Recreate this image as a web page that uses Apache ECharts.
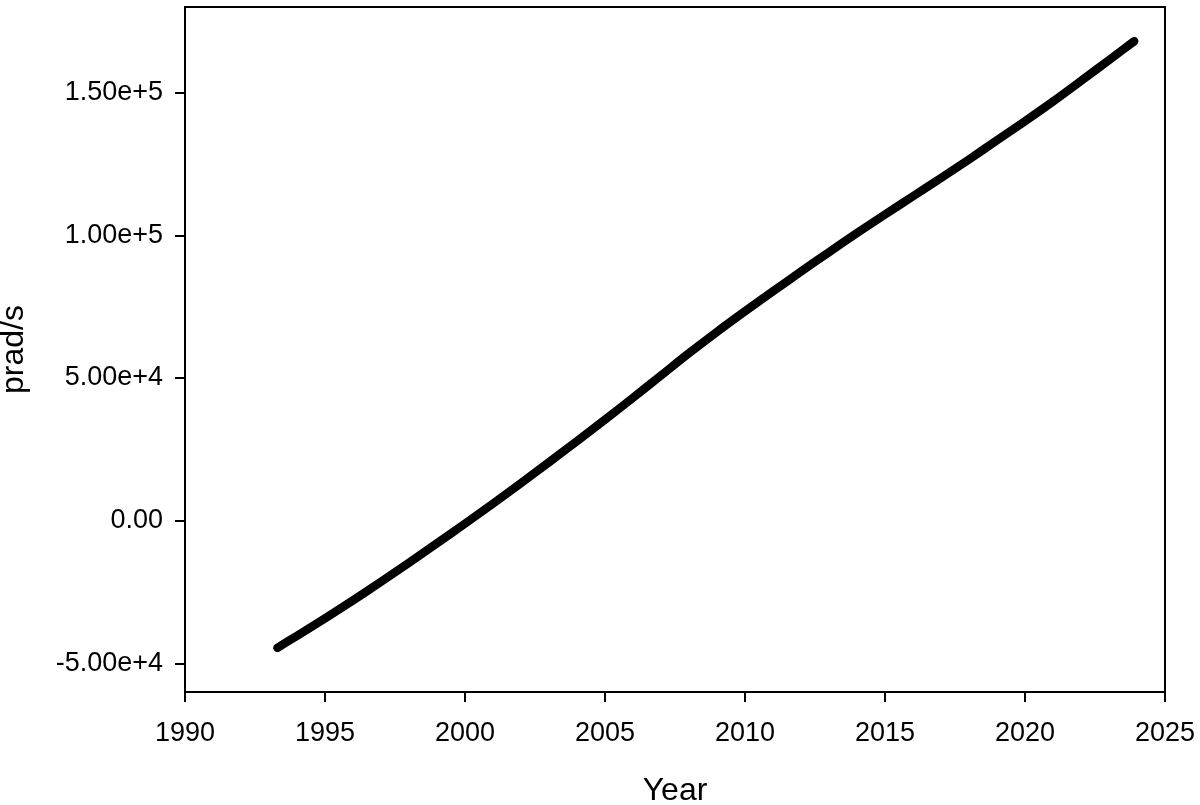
<!DOCTYPE html>
<html>
<head>
<meta charset="utf-8">
<script src="https://cdn.jsdelivr.net/npm/echarts@6/dist/echarts.min.js"></script>
<style>
  html, body { margin: 0; padding: 0; background: #fff; }
  #chart { width: 1200px; height: 805px; }
</style>
</head>
<body>
<div id="chart"></div>
<script>
// values
var years = [1993.3, 1994, 1995, 1996, 1997, 1998, 1999, 2000, 2001, 2002, 2003, 2004,
  2005, 2006, 2007, 2008, 2009, 2010, 2011, 2012, 2013, 2014, 2015, 2016, 2017,
  2018, 2019, 2020, 2021, 2022, 2023, 2023.9];
var prad = [-44500, -40300, -34200, -27900, -21400, -14700, -7900, -1000, 6000, 13200,
  20500, 27900, 35400, 43100, 50900, 58700, 66200, 73400, 80400, 87300, 94100,
  100800, 107300, 113700, 120100, 126600, 133300, 140000, 146900, 154100, 161400, 168000];
var yTicks = [-50000, 0, 50000, 100000, 150000];
var yTickLabels = ['-5.00e+4', '0.00', '5.00e+4', '1.00e+5', '1.50e+5'];

var myChart = echarts.init(document.getElementById('chart'));
var font = 'Liberation Sans';
var points = years.map(function (y, i) { return [y, prad[i]]; });

myChart.setOption({
  animation: false,
  backgroundColor: '#fff',
  grid: {
    left: 185,
    right: 35,
    top: 7,
    bottom: 113,
    outerBoundsMode: 'none',
    show: true,
    borderColor: '#000',
    borderWidth: 2
  },
  xAxis: {
    type: 'value',
    min: 1990,
    max: 2025,
    interval: 5,
    name: 'Year',
    nameLocation: 'middle',
    nameGap: 83,
    nameTextStyle: { fontFamily: font, fontSize: 32, color: '#000' },
    axisLine: { onZero: false, lineStyle: { color: '#000', width: 2 } },
    axisTick: { show: true, length: 10, inside: false, lineStyle: { color: '#000', width: 2 } },
    axisLabel: {
      fontFamily: font, fontSize: 27, color: '#000', margin: 28,
      formatter: function (v) { return String(v); }
    },
    splitLine: { show: false }
  },
  yAxis: {
    type: 'value',
    min: -60000,
    max: 180000,
    name: 'prad/s',
    nameLocation: 'middle',
    nameGap: 155,
    nameTextStyle: { fontFamily: font, fontSize: 32, color: '#000' },
    axisLine: { show: true, onZero: false, lineStyle: { color: '#000', width: 2 } },
    axisTick: { show: true, length: 10, customValues: yTicks, lineStyle: { color: '#000', width: 2 } },
    axisLabel: {
      fontFamily: font, fontSize: 27, color: '#000', margin: 22,
      customValues: yTicks,
      formatter: function (v) { return yTickLabels[yTicks.indexOf(v)]; }
    },
    splitLine: { show: false }
  },
  series: [
    {
      name: 'prad/s',
      type: 'line',
      smooth: 0.3,
      showSymbol: false,
      data: points,
      lineStyle: { color: '#000', width: 8.5, cap: 'round', join: 'round' }
    }
  ]
});
</script>
</body>
</html>
